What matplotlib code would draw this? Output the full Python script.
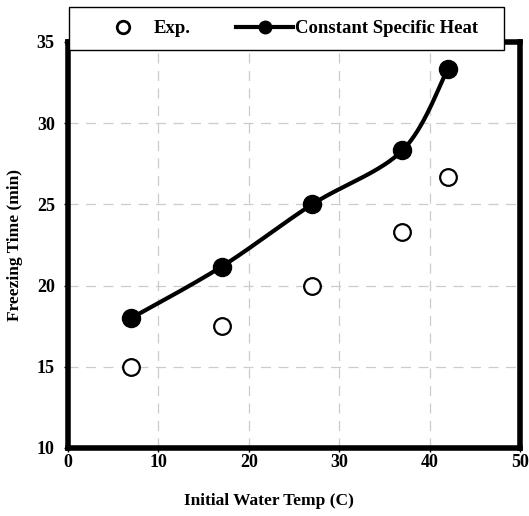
import matplotlib
matplotlib.use("Agg")
import matplotlib.pyplot as plt
from matplotlib.lines import Line2D
from matplotlib.patches import Rectangle
import numpy as np

plt.rcParams['font.family'] = ['Liberation Serif', 'DejaVu Serif']
plt.rcParams['font.weight'] = 'bold'

# initial water temperature (C) and freezing time (min)
temps = [7, 17, 27, 37, 42]
exp_time = [15.0, 17.5, 20.0, 23.33, 26.67]
const_cp_time = [18.0, 21.17, 25.0, 28.33, 33.33]

x_ticks = [0, 10, 20, 30, 40, 50]
y_ticks = [10, 15, 20, 25, 30, 35]


def smooth_curve(xs, ys, n=40):
    # spreadsheet-style smoothed line: cubic bezier segments with
    # control points taken from the neighbouring points (tension 1/6)
    p = np.column_stack([xs, ys]).astype(float)
    out = []
    for i in range(len(p) - 1):
        p0 = p[i - 1] if i > 0 else p[i]
        p1 = p[i]
        p2 = p[i + 1]
        p3 = p[i + 2] if i + 2 < len(p) else p[i + 1]
        c1 = p1 + (p2 - p0) / 6.0
        c2 = p2 - (p3 - p1) / 6.0
        t = np.linspace(0, 1, n)[:, None]
        seg = ((1 - t) ** 3) * p1 + 3 * ((1 - t) ** 2) * t * c1 \
            + 3 * (1 - t) * t ** 2 * c2 + t ** 3 * p2
        out.append(seg if i == 0 else seg[1:])
    out = np.vstack(out)
    return out[:, 0], out[:, 1]


fig = plt.figure(figsize=(5.29, 5.16), dpi=100)
ax = fig.add_axes([68 / 529, 1 - 448 / 516, 452 / 529, 406 / 516])

ax.set_xlim(0, 50)
ax.set_ylim(10, 35)
ax.set_xticks(x_ticks)
ax.set_yticks(y_ticks)

ax.grid(True, color='#cccccc', linewidth=0.9, linestyle=(0, (8, 6)))
ax.set_axisbelow(True)

sx, sy = smooth_curve(temps, const_cp_time)
ax.plot(sx, sy, color='black', linewidth=3.0, solid_capstyle='round',
        zorder=3, clip_on=False)
ax.plot(temps, const_cp_time, linestyle='none', marker='o', markersize=13,
        color='black', zorder=4, clip_on=False)
ax.plot(temps, exp_time, linestyle='none', marker='o', markersize=12,
        markerfacecolor='white', markeredgecolor='black',
        markeredgewidth=1.6, zorder=4)

for side in ['top', 'bottom', 'left', 'right']:
    ax.spines[side].set_linewidth(4)
    ax.spines[side].set_color('black')

ax.tick_params(axis='both', which='major', direction='out', length=3,
               width=1, labelsize=13, color='black')
ax.tick_params(axis='x', pad=1.0)
ax.tick_params(axis='y', pad=6.5)

ax.set_xlabel('Initial Water Temp (C)', fontsize=12.5, fontweight='bold',
              va='center')
ax.set_ylabel('Freezing Time (min)', fontsize=12.5, fontweight='bold',
              va='center')
ax.xaxis.set_label_coords(0.445, -0.13)
ax.yaxis.set_label_coords(-0.117, 0.5)

# legend box sitting over the top spine
box = Rectangle((69 / 529, 1 - 50 / 516), 435 / 529, 43 / 516,
                transform=fig.transFigure, facecolor='white',
                edgecolor='black', linewidth=1.0, zorder=4)
fig.patches.append(box)

handles = [
    Line2D([], [], linestyle='none', marker='o', markersize=9,
           markerfacecolor='white', markeredgecolor='black',
           markeredgewidth=2.0),
    Line2D([], [], color='black', linewidth=3.0, marker='o', markersize=9,
           markerfacecolor='black'),
]
leg = fig.legend(handles, ['Exp.', 'Constant Specific Heat'], ncol=2,
                 loc='center left', bbox_to_anchor=(95 / 529, 1 - 28.5 / 516),
                 frameon=False, borderpad=0, borderaxespad=0,
                 handlelength=3.0, handletextpad=0.12, columnspacing=2.45,
                 prop={'size': 13.5, 'weight': 'bold'})
leg.set_zorder(5)

fig.savefig('out.png', dpi=100)
